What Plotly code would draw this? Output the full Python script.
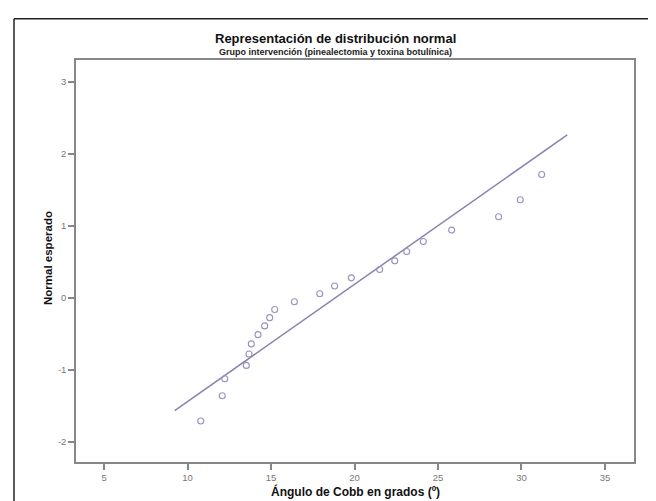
import plotly.graph_objects as go

cobb_angle = [10.79, 12.08, 12.23, 13.52, 13.68, 13.82, 14.22, 14.62, 14.92, 15.22, 16.40,
              17.92, 18.81, 19.81, 21.51, 22.41, 23.13, 24.12, 25.82, 28.63, 29.93, 31.21]
expected_normal = [-1.711, -1.360, -1.124, -0.939, -0.781, -0.641, -0.512, -0.391, -0.276, -0.164, -0.055,
                   0.055, 0.164, 0.276, 0.391, 0.512, 0.641, 0.781, 0.939, 1.124, 1.360, 1.711]

# Reference line endpoints
line_x = [9.23, 32.74]
line_y = [-1.567, 2.26]

x_ticks = [5, 10, 15, 20, 25, 30, 35]
y_ticks = [-2, -1, 0, 1, 2, 3]
y_tick_text = ["-2", "-1", "0", "1", "2", "3"]

title = "Representación de distribución normal"
subtitle = "Grupo intervención (pinealectomia y toxina botulínica)"
x_title = "Ángulo de Cobb en grados (º)"
y_title = "Normal esperado"

W, H = 656, 501
L, R, T, B = 68, 30, 52, 47
pw, ph = W - L - R, H - T - B

def px_x(px):
    return (px - L) / pw

def px_y(py):
    return 1 - (py - T) / ph

font = "Liberation Sans, Arial, sans-serif"

fig = go.Figure()
fig.add_trace(go.Scatter(x=line_x, y=line_y, mode="lines",
                         line=dict(color="#8585b0", width=1.5), hoverinfo="skip"))
fig.add_trace(go.Scatter(x=cobb_angle, y=expected_normal, mode="markers",
                         marker=dict(symbol="circle-open", size=6, color="#9b92bd",
                                     line=dict(width=1.1, color="#9b92bd"))))

axis_common = dict(showgrid=False, zeroline=False, showline=True, mirror=True,
                   linecolor="#878787", linewidth=1.5, ticks="outside", ticklen=6,
                   tickcolor="#878787", tickwidth=1.5,
                   tickfont=dict(family=font, size=9.5, color="#777777"))

fig.update_layout(
    width=W, height=H, margin=dict(l=L, r=R, t=T, b=B),
    paper_bgcolor="white", plot_bgcolor="white", showlegend=False,
    xaxis=dict(range=[3.32, 36.74], tickvals=x_ticks, **axis_common),
    yaxis=dict(range=[-2.28, 3.30], tickvals=y_ticks, ticktext=y_tick_text, **axis_common),
    annotations=[
        dict(text="<b>" + title + "</b>", xref="paper", yref="paper",
             x=px_x(327), y=px_y(31), showarrow=False, xanchor="center", yanchor="middle",
             font=dict(family=font, size=13, color="#111111")),
        dict(text="<b>" + subtitle + "</b>", xref="paper", yref="paper",
             x=px_x(327), y=px_y(44), showarrow=False, xanchor="center", yanchor="middle",
             borderpad=0, font=dict(family=font, size=9, color="#222222")),
        dict(text="<b>" + x_title + "</b>", xref="paper", yref="paper",
             x=px_x(347), y=px_y(483), showarrow=False, xanchor="center", yanchor="middle",
             font=dict(family=font, size=12, color="#111111")),
        dict(text="<b>" + y_title + "</b>", xref="paper", yref="paper",
             x=px_x(40), y=px_y(250), showarrow=False, xanchor="center", yanchor="middle",
             textangle=-90, font=dict(family=font, size=11.5, color="#111111")),
    ],
    shapes=[
        dict(type="line", xref="paper", yref="paper", x0=px_x(6), x1=px_x(6),
             y0=px_y(10.7), y1=px_y(H + 5), line=dict(color="#222222", width=1.5)),
        dict(type="line", xref="paper", yref="paper", x0=px_x(6), x1=px_x(W + 5),
             y0=px_y(10.7), y1=px_y(10.7), line=dict(color="#222222", width=1.5)),
    ],
)

fig.write_html("out.html")
